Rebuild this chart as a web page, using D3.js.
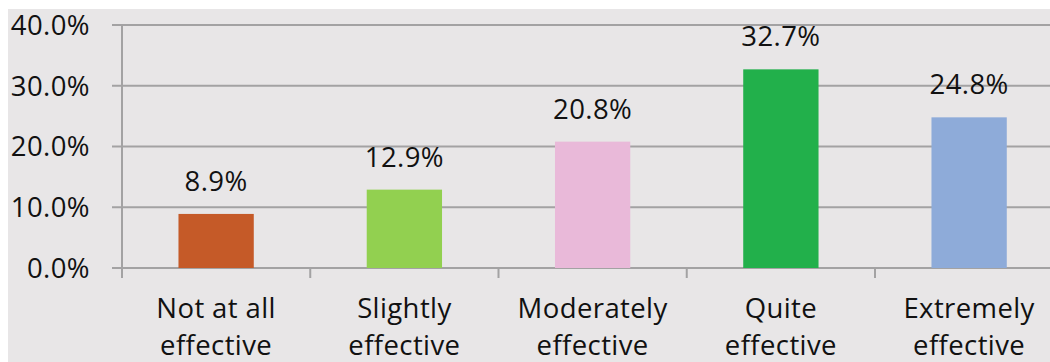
<!DOCTYPE html>
<html><head><meta charset="utf-8">
<script src="https://cdn.jsdelivr.net/npm/d3@7"></script>
<style>
html,body{margin:0;padding:0;background:#fff;}
svg{display:block;}
text{font-family:"Open Sans",sans-serif;fill:#111;letter-spacing:0.4px;}
</style></head>
<body>
<script>
const categories = [["Not at all","effective"],["Slightly","effective"],["Moderately","effective"],["Quite","effective"],["Extremely","effective"]];
const values = [8.9, 12.9, 20.8, 32.7, 24.8];
const barColors = ["#c55a28","#92d050","#e9b9d9","#22b04b","#8eabd9"];
const yTicks = [0, 10, 20, 30, 40];

const W = 1050, H = 362;
const svg = d3.select("body").append("svg").attr("width", W).attr("height", H);
svg.append("rect").attr("x", 8).attr("y", 9).attr("width", W - 8).attr("height", H - 9).attr("fill", "#e8e6e7");

const x = d3.scaleBand().domain(d3.range(values.length)).range([122, 1063.25]).paddingInner(0.6).paddingOuter(0.3);
const xb = d3.scaleBand().domain(d3.range(values.length)).range([122, 1063.25]);
const y = d3.scaleLinear().domain([0, 40]).range([268, 25]);

// gridlines
svg.append("g").selectAll("line").data(yTicks).join("line")
  .attr("x1", 112).attr("x2", W).attr("y1", d => y(d)).attr("y2", d => y(d))
  .attr("stroke", "#a3a2a3").attr("stroke-width", 2);

// y axis line
svg.append("line").attr("x1", 122).attr("x2", 122).attr("y1", y(40)).attr("y2", 278)
  .attr("stroke", "#a3a2a3").attr("stroke-width", 2);

// y tick labels
svg.append("g").selectAll("text").data(yTicks).join("text")
  .attr("x", 90).attr("y", d => y(d)).attr("dy", "0.36em")
  .attr("text-anchor", "end").attr("font-size", 27.5)
  .text(d => d3.format(".1f")(d) + "%");

// x ticks at band boundaries
svg.append("g").selectAll("line").data(d3.range(values.length + 1)).join("line")
  .attr("x1", i => 122 + i * xb.step()).attr("x2", i => 122 + i * xb.step())
  .attr("y1", 268).attr("y2", 278)
  .attr("stroke", "#a3a2a3").attr("stroke-width", 2);

// bars
svg.append("g").selectAll("rect").data(values).join("rect")
  .attr("x", (d, i) => x(i)).attr("width", x.bandwidth())
  .attr("y", d => y(d)).attr("height", d => y(0) - y(d))
  .attr("fill", (d, i) => barColors[i]);

// value labels
svg.append("g").selectAll("text").data(values).join("text")
  .attr("x", (d, i) => x(i) + x.bandwidth() / 2).attr("y", d => y(d) - 23)
  .attr("text-anchor", "middle").attr("font-size", 27.5)
  .text(d => d3.format(".1f")(d) + "%");

// category labels
const cl = svg.append("g").selectAll("text").data(categories).join("text")
  .attr("text-anchor", "middle").attr("font-size", 27.5);
cl.selectAll("tspan").data((d, i) => d.map(t => ({t, i}))).join("tspan")
  .attr("x", d => xb(d.i) + xb.bandwidth() / 2)
  .attr("y", (d, j) => 318 + j * 37)
  .text(d => d.t);
</script>
</body></html>
